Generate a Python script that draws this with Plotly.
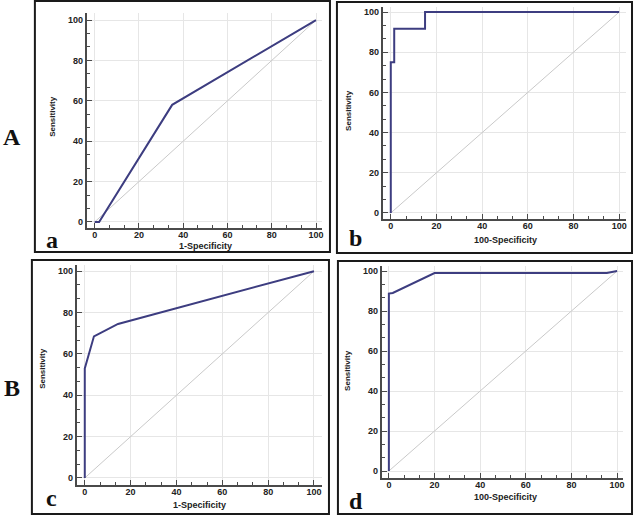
import plotly.graph_objects as go

W, H = 637, 516

# ---------------- data ----------------
a_fpr = [0, 2, 35, 100]
a_sens = [0, 0, 58, 100]

b_fpr = [0, 0, 1.5, 1.5, 15, 15, 100]
b_sens = [0, 75, 75, 91.7, 91.7, 100, 100]

c_fpr = [0, 0, 4, 14.5, 100]
c_sens = [0, 53, 68.5, 74.5, 100]

d_fpr = [0, 0, 1.7, 20, 95.5, 100]
d_sens = [0, 88.7, 89, 99, 99, 100]

diag = [0, 100]
tick_vals = [0, 20, 40, 60, 80, 100]
tick_text = ["0", "20", "40", "60", "80", "100"]

panels = [
    dict(key="a", fpr=a_fpr, sens=a_sens, xtitle="1-Specificity"),
    dict(key="b", fpr=b_fpr, sens=b_sens, xtitle="100-Specificity"),
    dict(key="c", fpr=c_fpr, sens=c_sens, xtitle="1-Specificity"),
    dict(key="d", fpr=d_fpr, sens=d_sens, xtitle="100-Specificity"),
]

# ---------------- layout geometry (pixels) ----------------
geom = {
    "a": dict(px=(87, 323, 13, 228), xr=(-3.6, 102.7), yr=(-3.0, 103.5),
              box=(35, 331, 1, 252), ytitle=(53, 116), xtitle=(206, 246), letter=(52, 240)),
    "b": dict(px=(384, 628, 7, 219), xr=(-3.5, 103.0), yr=(-3.0, 102.5),
              box=(338, 634, 2, 253), ytitle=(350, 110), xtitle=(507, 240), letter=(357, 238)),
    "c": dict(px=(77, 323, 265, 485), xr=(-3.5, 103.5), yr=(-3.4, 103.0),
              box=(32, 330, 260, 514), ytitle=(42, 368), xtitle=(200, 505), letter=(52, 498)),
    "d": dict(px=(383, 625, 266, 478), xr=(-3.1, 102.6), yr=(-3.5, 102.5),
              box=(339, 634, 261, 514), ytitle=(348, 370), xtitle=(507, 497), letter=(357, 501)),
}


def px2x(p):
    return p / W


def px2y(p):
    return 1 - p / H


AXIS_COLOR = "#4a4a4a"
GRID_COLOR = "#e6e6e6"
ROC_COLOR = "#3d3d80"
DIAG_COLOR = "#c9c9c9"
SANS = "Liberation Sans, Arial, sans-serif"
SERIF = "Liberation Serif, Times New Roman, serif"
TICK_FONT = dict(family=SANS, size=9, color="#222222", weight="bold")


def label(text, x, y, font, angle=0):
    return dict(text=text, x=px2x(x), y=px2y(y), xref="paper", yref="paper",
                xanchor="center", yanchor="middle", showarrow=False,
                textangle=angle, font=font)


fig = go.Figure()
layout = dict(
    width=W, height=H, margin=dict(l=0, r=0, t=0, b=0),
    paper_bgcolor="white", plot_bgcolor="white", showlegend=False,
    annotations=[], shapes=[],
)

for i, p in enumerate(panels):
    g = geom[p["key"]]
    n = "" if i == 0 else str(i + 1)
    xa, ya = "x" + n, "y" + n
    fig.add_trace(go.Scatter(x=diag, y=diag, mode="lines", xaxis=xa, yaxis=ya,
                             line=dict(color=DIAG_COLOR, width=1), hoverinfo="skip"))
    fig.add_trace(go.Scatter(x=p["fpr"], y=p["sens"], mode="lines", xaxis=xa, yaxis=ya,
                             line=dict(color=ROC_COLOR, width=2)))
    l, r, t, b = g["px"]
    common = dict(
        showline=True, linecolor=AXIS_COLOR, linewidth=2, zeroline=False,
        showgrid=True, gridcolor=GRID_COLOR, gridwidth=1,
        ticks="inside", ticklen=5, tickwidth=1, tickcolor=AXIS_COLOR,
        tickmode="array", tickvals=tick_vals, ticktext=tick_text,
        tickfont=TICK_FONT,
        minor=dict(ticks="inside", ticklen=3, tickcolor=AXIS_COLOR, tick0=0,
                   dtick=20 / 3, showgrid=False),
        fixedrange=True,
    )
    layout["xaxis" + n] = dict(common, domain=[px2x(l), px2x(r)], range=list(g["xr"]),
                               anchor=ya, ticklabelstandoff=-3)
    layout["yaxis" + n] = dict(common, domain=[px2y(b), px2y(t)], range=list(g["yr"]),
                               anchor=xa)
    bl, br, bt, bb = g["box"]
    layout["shapes"].append(dict(type="rect", xref="paper", yref="paper",
                                 x0=px2x(bl), x1=px2x(br), y0=px2y(bb), y1=px2y(bt),
                                 line=dict(color="#1a1a1a", width=2), layer="below"))
    layout["annotations"].append(label("Sensitivity", *g["ytitle"],
                                       dict(family=SANS, size=8, color="#222222", weight="bold"),
                                       angle=-90))
    layout["annotations"].append(label(p["xtitle"], *g["xtitle"],
                                       dict(family=SANS, size=9, color="#222222", weight="bold")))
    layout["annotations"].append(label(p["key"], *g["letter"],
                                       dict(family=SERIF, size=24, color="#111111", weight="bold")))

for txt, pos in [("A", (12, 137)), ("B", (12, 388))]:
    layout["annotations"].append(label(txt, *pos,
                                       dict(family=SERIF, size=24, color="#111111", weight="bold")))

fig.update_layout(**layout)
fig.write_html("out.html", config={"displayModeBar": False},
               post_script="document.body.style.margin='0';document.body.style.overflow='hidden';")
